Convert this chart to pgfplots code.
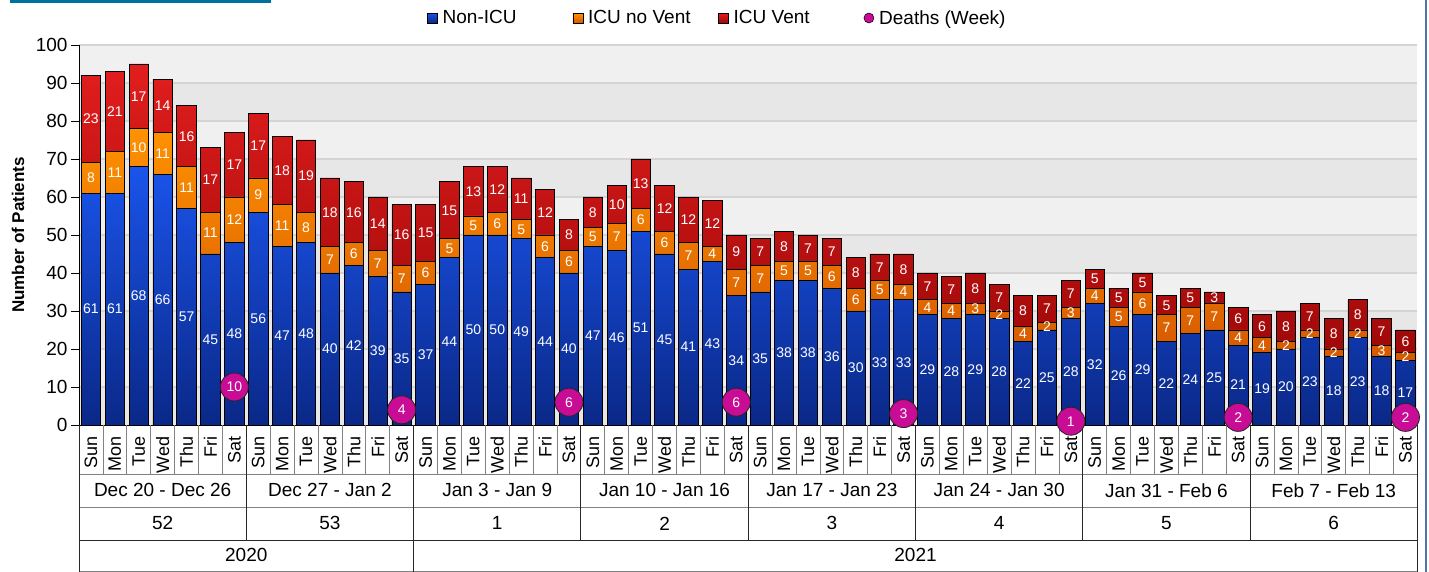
\documentclass[border=0pt]{standalone}
\usepackage{pgfplots}
\pgfplotsset{compat=1.18}
\usepackage{pgfplotstable}
\usepackage{fontspec}
\setmainfont{Liberation Sans}

\definecolor{blueT}{RGB}{26,84,235}
\definecolor{blueB}{RGB}{10,40,135}
\definecolor{orT}{RGB}{255,146,0}
\definecolor{orB}{RGB}{214,88,0}
\definecolor{redT}{RGB}{226,30,30}
\definecolor{redB}{RGB}{160,8,8}
\definecolor{deathc}{RGB}{200,12,150}
\definecolor{bandL}{RGB}{240,240,240}
\definecolor{bandD}{RGB}{231,231,231}
\definecolor{gridc}{RGB}{212,212,212}
\definecolor{titleblue}{RGB}{0,112,160}
\definecolor{framec}{RGB}{80,115,170}
\definecolor{sepL}{RGB}{130,130,130}
\definecolor{sepD}{RGB}{40,40,40}

\pgfplotstableread{
x non icu vent
0 61 8 23
1 61 11 21
2 68 10 17
3 66 11 14
4 57 11 16
5 45 11 17
6 48 12 17
7 56 9 17
8 47 11 18
9 48 8 19
10 40 7 18
11 42 6 16
12 39 7 14
13 35 7 16
14 37 6 15
15 44 5 15
16 50 5 13
17 50 6 12
18 49 5 11
19 44 6 12
20 40 6 8
21 47 5 8
22 46 7 10
23 51 6 13
24 45 6 12
25 41 7 12
26 43 4 12
27 34 7 9
28 35 7 7
29 38 5 8
30 38 5 7
31 36 6 7
32 30 6 8
33 33 5 7
34 33 4 8
35 29 4 7
36 28 4 7
37 29 3 8
38 28 2 7
39 22 4 8
40 25 2 7
41 28 3 7
42 32 4 5
43 26 5 5
44 29 6 5
45 22 7 5
46 24 7 5
47 25 7 3
48 21 4 6
49 19 4 6
50 20 2 8
51 23 2 7
52 18 2 8
53 23 2 8
54 18 3 7
55 17 2 6
}\data
\pgfplotstablecreatecol[create col/expr={\thisrow{non}/2}]{m1}{\data}
\pgfplotstablecreatecol[create col/expr={\thisrow{non}+\thisrow{icu}/2}]{m2}{\data}
\pgfplotstablecreatecol[create col/expr={\thisrow{non}+\thisrow{icu}+\thisrow{vent}/2}]{m3}{\data}

\pgfplotstableread{
x d
6 10
13 4
20 6
27 6
34 3
41 1
48 2
55 2
}\deaths

\pgfplotsset{
  base/.style={
    at={(79pt,147pt)}, anchor=south west, scale only axis,
    x=23.9pt, y=3.8pt,
    xmin=-0.5, xmax=55.5, ymin=0, ymax=100,
  },
  seglabel/.style={
    draw=none, forget plot,
    nodes near coords, point meta=explicit symbolic,
    every node near coord/.append style={anchor=center, text=white,
      font=\fontsize{14}{16}\selectfont},
  },
}

\begin{document}
\begin{tikzpicture}
\useasboundingbox (0,0) rectangle (1429pt,572pt);
\fill[titleblue] (10pt,569pt) rectangle (271pt,572pt);
\draw[framec, line width=1.8pt] (1426pt,0pt) -- (1426pt,572pt);

% background bands and grid
\begin{axis}[base, hide axis, clip=false]
\fill[bandL] (axis cs:-0.5,0) rectangle (axis cs:55.5,100);
\fill[bandD] (axis cs:-0.5,0) rectangle (axis cs:55.5,10);
\fill[bandD] (axis cs:-0.5,20) rectangle (axis cs:55.5,30);
\fill[bandD] (axis cs:-0.5,40) rectangle (axis cs:55.5,50);
\fill[bandD] (axis cs:-0.5,60) rectangle (axis cs:55.5,70);
\fill[bandD] (axis cs:-0.5,80) rectangle (axis cs:55.5,90);
\pgfplotsinvokeforeach{10,20,...,100}{
  \draw[gridc, line width=1.5pt] (axis cs:-0.5,#1) -- (axis cs:55.5,#1);
}
\end{axis}

\begin{axis}[base,
  ybar stacked, bar width=19.5pt,
  clip=false,
  separate axis lines,
  axis x line*=bottom, axis y line*=left,
  axis line style={black, line width=0.8pt, -},
  ytick={0,10,...,100},
  tick align=outside, major tick length=8pt,
  ytick style={black, line width=0.6pt},
  xtick={0,...,55},
  xtick style={draw=none},
  xticklabels={Sun,Mon,Tue,Wed,Thu,Fri,Sat,Sun,Mon,Tue,Wed,Thu,Fri,Sat,Sun,Mon,Tue,Wed,Thu,Fri,Sat,Sun,Mon,Tue,Wed,Thu,Fri,Sat,Sun,Mon,Tue,Wed,Thu,Fri,Sat,Sun,Mon,Tue,Wed,Thu,Fri,Sat,Sun,Mon,Tue,Wed,Thu,Fri,Sat,Sun,Mon,Tue,Wed,Thu,Fri,Sat},
  xticklabel style={rotate=90, anchor=east, font=\fontsize{18}{20}\selectfont},
  yticklabel style={font=\fontsize{19}{22}\selectfont},
  /pgf/number format/assume math mode=true,
  ylabel={Number of Patients},
  ylabel style={font=\bfseries\fontsize{17}{20}\selectfont, at={(axis description cs:-0.0456,0.5)}, anchor=center},
]
\addplot[draw=black, line width=0.7pt, top color=blueT, bottom color=blueB]
  table[x=x, y=non]{\data};
\addplot[draw=black, line width=0.7pt, top color=orT, bottom color=orB]
  table[x=x, y=icu]{\data};
\addplot[draw=black, line width=0.7pt, top color=redT, bottom color=redB]
  table[x=x, y=vent]{\data};

% table below the axis
\pgfplotsinvokeforeach{0.5,1.5,2.5,3.5,4.5,5.5,7.5,8.5,9.5,10.5,11.5,12.5,14.5,15.5,16.5,17.5,18.5,19.5,21.5,22.5,23.5,24.5,25.5,26.5,28.5,29.5,30.5,31.5,32.5,33.5,35.5,36.5,37.5,38.5,39.5,40.5,42.5,43.5,44.5,45.5,46.5,47.5,49.5,50.5,51.5,52.5,53.5,54.5}{
  \draw[sepL, line width=0.8pt] (axis cs:#1,0) -- (axis cs:#1,-12.89);
}
\pgfplotsinvokeforeach{6.5,20.5,27.5,34.5,41.5,48.5}{
  \draw[sepD, line width=0.9pt] (axis cs:#1,0) -- (axis cs:#1,-30.26);
}
\draw[sepD, line width=0.9pt] (axis cs:13.5,0) -- (axis cs:13.5,-38.9);
\draw[sepD, line width=0.9pt] (axis cs:-0.5,0) -- (axis cs:-0.5,-38.9);
\draw[sepD, line width=0.9pt] (axis cs:55.5,0) -- (axis cs:55.5,-38.9);
\draw[sepL, line width=0.8pt] (axis cs:-0.5,-12.89) -- (axis cs:55.5,-12.89);
\draw[sepL, line width=0.8pt] (axis cs:-0.5,-21.58) -- (axis cs:55.5,-21.58);
\draw[sepD, line width=0.9pt] (axis cs:-0.5,-30.26) -- (axis cs:55.5,-30.26);
\draw[sepL, line width=0.8pt] (axis cs:-0.5,-38.5) -- (axis cs:55.5,-38.5);

\node[font=\fontsize{19}{22}\selectfont] at (axis cs:3,-17.2) {Dec 20 - Dec 26};
\node[font=\fontsize{19}{22}\selectfont] at (axis cs:10,-17.2) {Dec 27 - Jan 2};
\node[font=\fontsize{19}{22}\selectfont] at (axis cs:17,-17.2) {Jan 3 - Jan 9};
\node[font=\fontsize{19}{22}\selectfont] at (axis cs:24,-17.2) {Jan 10 - Jan 16};
\node[font=\fontsize{19}{22}\selectfont] at (axis cs:31,-17.2) {Jan 17 - Jan 23};
\node[font=\fontsize{19}{22}\selectfont] at (axis cs:38,-17.2) {Jan 24 - Jan 30};
\node[font=\fontsize{19}{22}\selectfont] at (axis cs:45,-17.2) {Jan 31 - Feb 6};
\node[font=\fontsize{19}{22}\selectfont] at (axis cs:52,-17.2) {Feb 7 - Feb 13};
\node[font=\fontsize{19}{22}\selectfont] at (axis cs:3,-25.9) {52};
\node[font=\fontsize{19}{22}\selectfont] at (axis cs:10,-25.9) {53};
\node[font=\fontsize{19}{22}\selectfont] at (axis cs:17,-25.9) {1};
\node[font=\fontsize{19}{22}\selectfont] at (axis cs:24,-25.9) {2};
\node[font=\fontsize{19}{22}\selectfont] at (axis cs:31,-25.9) {3};
\node[font=\fontsize{19}{22}\selectfont] at (axis cs:38,-25.9) {4};
\node[font=\fontsize{19}{22}\selectfont] at (axis cs:45,-25.9) {5};
\node[font=\fontsize{19}{22}\selectfont] at (axis cs:52,-25.9) {6};
\node[font=\fontsize{19}{22}\selectfont] at (axis cs:6.5,-34.3) {2020};
\node[font=\fontsize{19}{22}\selectfont] at (axis cs:34.5,-34.3) {2021};
\end{axis}

\begin{axis}[base, hide axis, clip=false,
  legend columns=4,
  legend style={at={(0.26,1.071)}, anchor=west, draw=none, fill=none,
    inner sep=0pt, font=\fontsize{19}{22}\selectfont,
    nodes={inner sep=2pt},
    /tikz/every odd column/.append style={column sep=3pt},
    /tikz/every even column/.append style={column sep=0pt}},
]
\addplot[seglabel] table[x=x, y=m1, meta=non]{\data};
\addplot[seglabel] table[x=x, y=m2, meta=icu]{\data};
\addplot[seglabel] table[x=x, y=m3, meta=vent]{\data};
\addlegendimage{legend image code/.code={\draw[top color=blueT,bottom color=blueB,draw=black,line width=0.5pt] (0pt,-5pt) rectangle (10pt,5pt);}}
\addlegendentry{\makebox[128pt][l]{Non-ICU}}
\addlegendimage{legend image code/.code={\draw[top color=orT,bottom color=orB,draw=black,line width=0.5pt] (0pt,-5pt) rectangle (10pt,5pt);}}
\addlegendentry{\makebox[128pt][l]{ICU no Vent}}
\addlegendimage{legend image code/.code={\draw[top color=redT,bottom color=redB,draw=black,line width=0.5pt] (0pt,-5pt) rectangle (10pt,5pt);}}
\addlegendentry{\makebox[128pt][l]{ICU Vent}}
\addplot[only marks, mark=*, mark size=14pt,
  mark options={fill=deathc, draw=black!85, line width=0.8pt},
  nodes near coords, point meta=explicit symbolic,
  every node near coord/.append style={anchor=center, text=white, font=\fontsize{14}{16}\selectfont},
  legend image code/.code={\draw[fill=deathc, draw=black, line width=0.5pt] (5pt,0pt) circle (5pt);}]
  table[x=x, y=d, meta=d]{\deaths};
\addlegendentry{Deaths (Week)}
\end{axis}
\end{tikzpicture}
\end{document}
